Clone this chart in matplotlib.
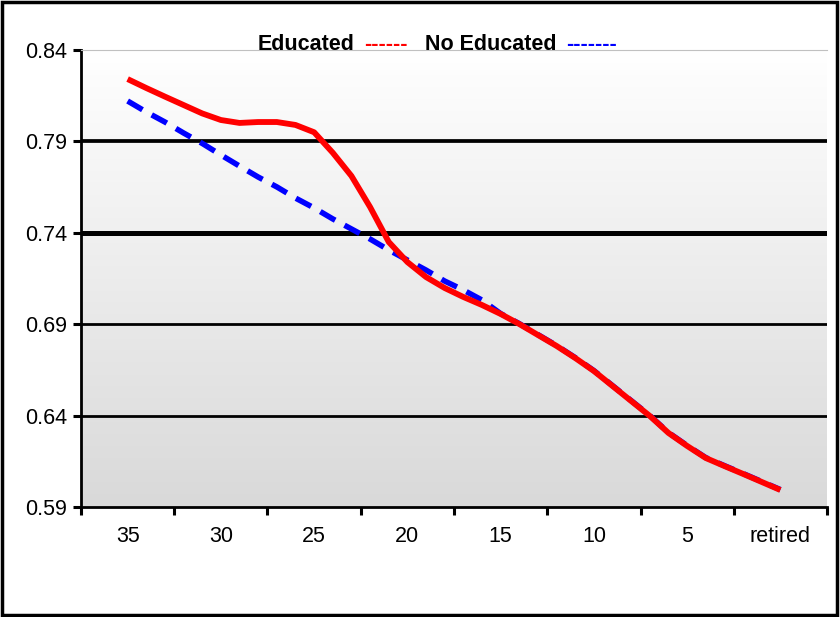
import numpy as np
import matplotlib
matplotlib.use("Agg")
import matplotlib.pyplot as plt
from matplotlib.patches import Rectangle

plt.rcParams["font.family"] = ["Liberation Sans", "DejaVu Sans"]

# years before retirement, 0 = retired
years = list(range(35, -1, -1))

educated = [0.8241, 0.8192, 0.8145, 0.8099, 0.8053, 0.8017, 0.8001, 0.8006, 0.8006,
            0.7990, 0.7950, 0.7838, 0.7711, 0.7541, 0.7350, 0.7240, 0.7158, 0.7098,
            0.7049, 0.7005, 0.6956, 0.6901, 0.6841, 0.6781, 0.6715, 0.6644, 0.6562,
            0.6480, 0.6398, 0.6305, 0.6234, 0.6168, 0.6124, 0.6081, 0.6037, 0.5993]

no_educated = [0.8121, 0.8061, 0.8006, 0.7946, 0.7889, 0.7826, 0.7765, 0.7705, 0.7651,
               0.7590, 0.7536, 0.7476, 0.7421, 0.7366, 0.7306, 0.7251, 0.7196, 0.7136,
               0.7087, 0.7032, 0.6958, 0.6903, 0.6843, 0.6783, 0.6717, 0.6646, 0.6564,
               0.6482, 0.6400, 0.6307, 0.6236, 0.6170, 0.6126, 0.6083, 0.6039, 0.5995]

label_pos = [35, 30, 25, 20, 15, 10, 5, 0]
label_txt = ["35", "30", "25", "20", "15", "10", "5", "retired"]
tick_edges = [37.5, 32.5, 27.5, 22.5, 17.5, 12.5, 7.5, 2.5, -2.5]

y_ticks = [0.59, 0.64, 0.69, 0.74, 0.79, 0.84]
grid_vals = [0.64, 0.69, 0.74, 0.79]
grid_widths = [2.0, 2.0, 3.6, 2.7]

fig = plt.figure(figsize=(8.4, 6.17), dpi=100)
ax = fig.add_axes([81 / 840, 1 - 507 / 617, (827 - 81) / 840, (507 - 50) / 617])

ax.set_xlim(37.5, -2.5)
ax.set_ylim(0.59, 0.84)

# vertical gradient background, white to light grey
grad = np.linspace(0, 1, 256).reshape(-1, 1)
cmap = matplotlib.colors.LinearSegmentedColormap.from_list("bg", ["#d9d9d9", "#ffffff"])
ax.imshow(grad, aspect="auto", cmap=cmap, origin="lower",
          extent=[37.5, -2.5, 0.59, 0.84], zorder=0)

for v, w in zip(grid_vals, grid_widths):
    ax.axhline(v, color="black", lw=w, zorder=1)

ax.plot(years, no_educated, color="#0000ff", lw=4.0, dashes=(3.1, 1.9),
        dash_joinstyle="round", zorder=3)
ax.plot(years, educated, color="#ff0000", lw=4.2, solid_capstyle="butt",
        solid_joinstyle="round", zorder=4)

ax.set_yticks(y_ticks)
ax.set_yticklabels([f"{v:.2f}" for v in y_ticks], fontsize=15.5)
ax.set_xticks(tick_edges)
ax.set_xticklabels([])
ax.set_xticks(label_pos, minor=True)
ax.set_xticklabels(label_txt, minor=True, fontsize=15.5)
ax.tick_params(axis="x", which="major", length=6, width=2.2, direction="out")
ax.tick_params(axis="x", which="minor", length=0, pad=14)
ax.tick_params(axis="y", length=6, width=2.2, direction="out", pad=4)

for s in ["left", "bottom"]:
    ax.spines[s].set_linewidth(2.0)
    ax.spines[s].set_color("black")
ax.spines["top"].set_color("#c0c0c0")
ax.spines["top"].set_linewidth(0.8)
ax.spines["right"].set_visible(False)

# legend written as text
fig.text(258 / 840, 1 - 50 / 617, "Educated", fontsize=15.5, fontweight="bold")
fig.text(364 / 840, 1 - 50 / 617, "------", fontsize=15.5, fontweight="bold", color="#ff0000")
fig.text(425 / 840, 1 - 50 / 617, "No Educated", fontsize=15.5, fontweight="bold")
fig.text(566 / 840, 1 - 50 / 617, "-------", fontsize=15.5, fontweight="bold", color="#0000ff")

# outer frame
fig.patches.append(Rectangle((0.002, 0.004), 0.994, 0.992, transform=fig.transFigure,
                             fill=False, edgecolor="black", lw=2.5))

fig.savefig("out.png", dpi=100)
